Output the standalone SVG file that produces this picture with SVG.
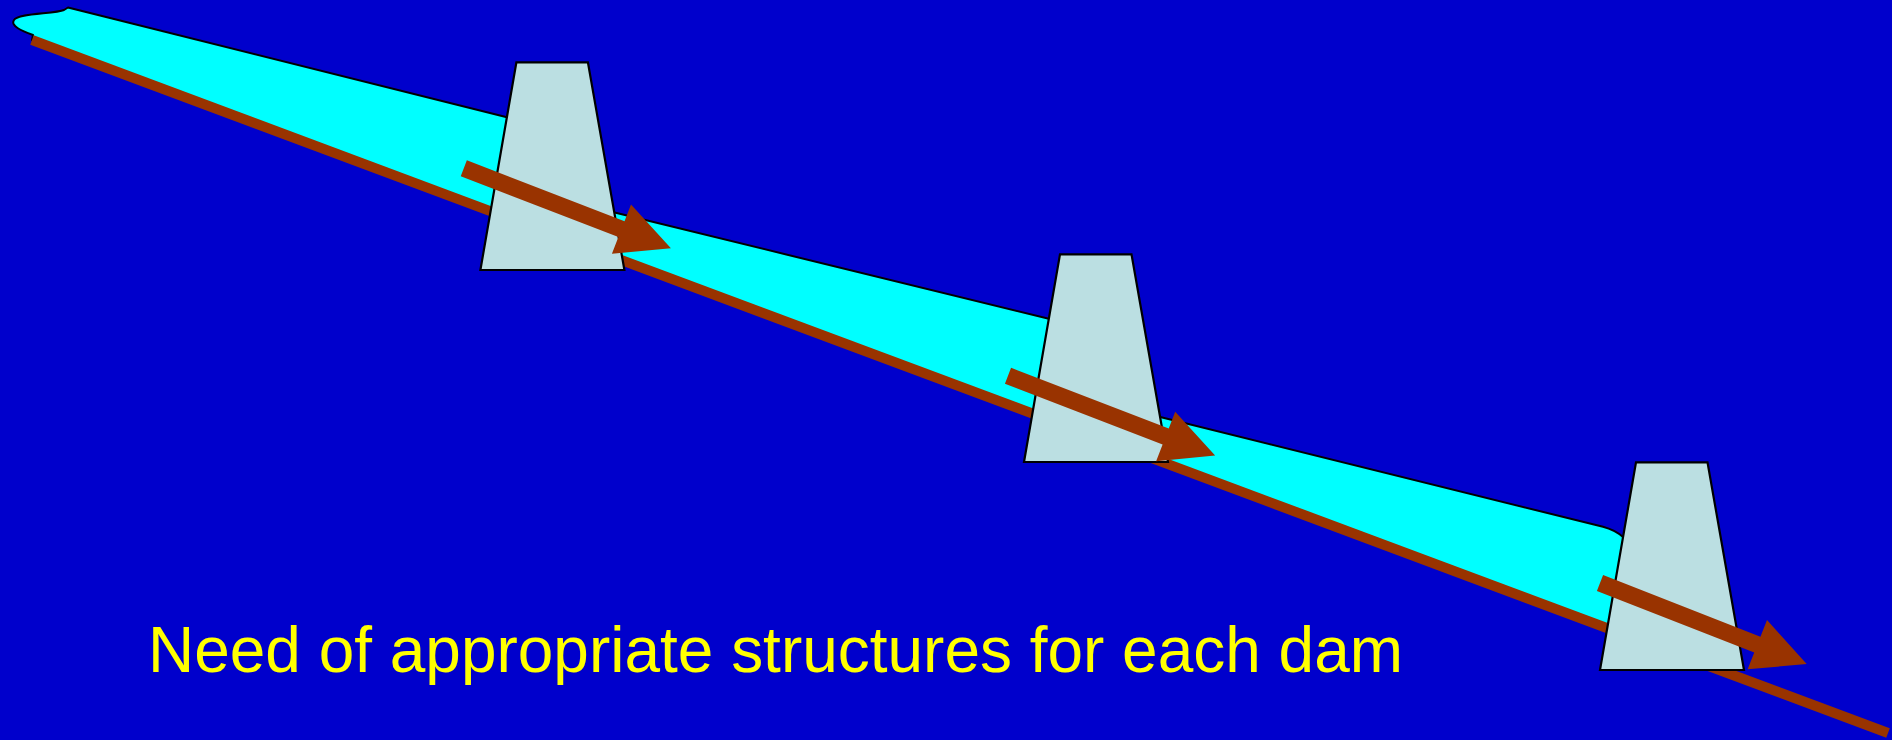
<svg xmlns="http://www.w3.org/2000/svg" xmlns:xlink="http://www.w3.org/1999/xlink" width="1892" height="740" viewBox="0 0 1892 740">
<style>
.water{fill:#00FFFF;stroke:#000;stroke-width:2;stroke-linejoin:round}
.bed{stroke:#993300;stroke-width:10;fill:none}
.dam{fill:#BBDFE2;stroke:#000;stroke-width:2.2}
.arrow{fill:#993300}
.caption{font-family:"Liberation Sans",Arial,sans-serif;font-size:64.5px;fill:#FFFF00}
</style>
<defs>
<path id="damShape" class="dam" d="M36,0 L107.5,0 L144,207.7 L0,207.7 Z"/>
<path id="arrowShape" class="arrow" d="M0,-8.5 L169,-8.5 L169,-26.5 L222,0 L169,26.5 L169,8.5 L0,8.5 Z"/>
</defs>
<rect width="1892" height="740" fill="#0000CC"/>
<g id="water">
<path class="water" d="M68,7.5 L506.9,117.3 L560,160 L613.6,212.3 L1048.8,318.7 L1100,380 L1160.2,417 L1603,526.8 Q1615,530 1623,537 L1640,560 L1640,640.4 L32,40 L33,35 C22,31 10,26 14,20 C18,13 55,14 64,10 Z"/>
</g>
<g id="riverbed">
<line class="bed" x1="32" y1="40" x2="1888" y2="733"/>
</g>
<g id="dam1"><use xlink:href="#damShape" transform="translate(480.4,62.3)"/></g>
<g id="dam2"><use xlink:href="#damShape" transform="translate(1024,254.3)"/></g>
<g id="dam3"><use xlink:href="#damShape" transform="translate(1600,462.3)"/></g>
<g id="connectors">
<use xlink:href="#arrowShape" transform="translate(463.8,168.3) rotate(21.1)"/>
<use xlink:href="#arrowShape" transform="translate(1008,375.7) rotate(21.1)"/>
<use xlink:href="#arrowShape" transform="translate(1600,583) rotate(21.4)"/>
</g>
<g id="caption">
<text class="caption" x="148" y="672" textLength="1255" lengthAdjust="spacingAndGlyphs">Need of appropriate structures for each dam</text>
</g>
</svg>
